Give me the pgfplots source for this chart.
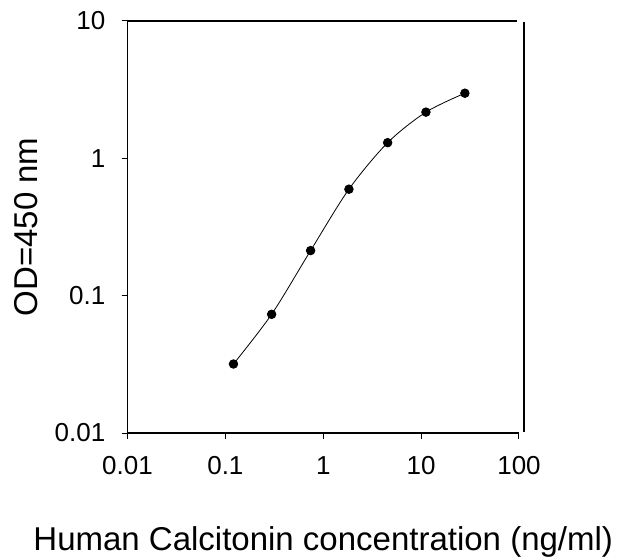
\documentclass[border=0pt]{standalone}
\usepackage{fontspec}
\setmainfont{Liberation Sans}
\usepackage{pgfplots}
\pgfplotsset{compat=1.18}
\begin{document}
\begin{tikzpicture}
\begin{axis}[
  scale only axis, width=391.5pt, height=412pt,
  xmode=log, ymode=log,
  xmin=0.01, xmax=100, ymin=0.01, ymax=10,
  axis x line*=bottom, axis y line*=left,
  axis line style={-, line width=1.1pt},
  xtick={0.01,0.1,1,10,100}, xticklabels={0.01,0.1,1,10,100},
  ytick={0.01,0.1,1,10}, yticklabels={0.01,0.1,1,10},
  minor xtick={}, minor ytick={},
  minor tick length=0pt, minor tick style={draw=none},
  tick align=outside, major tick length=6pt,
  tick style={black, line width=1pt},
  ticklabel style={font=\fontsize{26}{29}\selectfont},
  xticklabel style={anchor=north, inner sep=0pt, yshift=-17.5pt},
  yticklabel style={anchor=east, inner sep=0pt, xshift=-16pt},
  xlabel={Human Calcitonin concentration (ng/ml)},
  ylabel={OD=450 nm},
  label style={font=\fontsize{33}{36}\selectfont},
  xlabel style={at={(axis description cs:0.5,-0.265)}, anchor=center},
  ylabel style={at={(axis description cs:-0.2593,0.5)}, anchor=center, rotate=0},
  clip=false,
]
\addplot[black, line width=0.8pt, smooth, mark=*, mark size=4.3pt, mark options={fill=black}]
  coordinates {(0.121,0.0318) (0.297,0.0732) (0.743,0.213) (1.83,0.596) (4.55,1.30) (11.2,2.17) (28.0,2.98)};
\draw[line width=1.1pt] (rel axis cs:0,1) -- ([xshift=-2pt]rel axis cs:1,1);
\draw[line width=1.1pt] ([xshift=5pt,yshift=-1pt]rel axis cs:1,1) -- ([xshift=5pt,yshift=1pt]rel axis cs:1,0);
\coordinate (SW) at (rel axis cs:0,0);
\end{axis}
\pgfresetboundingbox
\path (SW) ++(-127.5pt,-126pt) rectangle ++(617pt,559pt);
\end{tikzpicture}
\end{document}
